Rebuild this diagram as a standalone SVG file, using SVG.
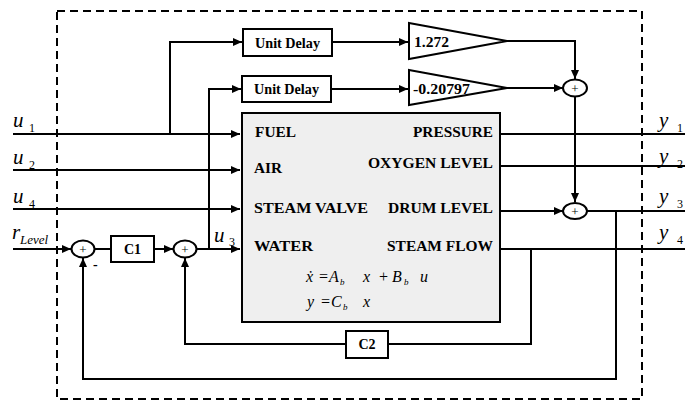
<svg xmlns="http://www.w3.org/2000/svg" width="685" height="401" viewBox="0 0 685 401">
<defs>
<marker id="ah" markerWidth="9" markerHeight="8" refX="9" refY="4" orient="auto" markerUnits="userSpaceOnUse">
<path d="M0,0 L9,4 L0,8 Z" fill="#000"/>
</marker>
<style>
.ln{fill:none;stroke:#000;stroke-width:2}
.box{fill:#fff;stroke:#000;stroke-width:2}
.sum{fill:#fff;stroke:#000;stroke-width:2}
.b{font-family:"Liberation Serif",serif;font-weight:bold;font-size:14px;fill:#000}
.pl{font-family:"Liberation Serif",serif;font-size:13px;fill:#000}
.it{font-family:"Liberation Serif",serif;font-style:italic;font-size:21px;fill:#000}
.eq{font-family:"Liberation Serif",serif;font-style:italic;font-size:16px;fill:#000}
.sub{font-family:"Liberation Serif",serif;font-size:12px;fill:#000}
.subi{font-family:"Liberation Serif",serif;font-style:italic;font-size:13px;fill:#000}
.sb{font-family:"Liberation Serif",serif;font-style:italic;font-size:9px;fill:#000}
</style>
</defs>
<rect x="57" y="11" width="585" height="388" fill="none" stroke="#000" stroke-width="2" stroke-dasharray="8,5"/>
<g id="connectors">
<path class="ln" d="M13,134 H240" marker-end="url(#ah)"/>
<path class="ln" d="M170,134 V42 H242" marker-end="url(#ah)"/>
<path class="ln" d="M13,170 H240" marker-end="url(#ah)"/>
<path class="ln" d="M13,209 H240" marker-end="url(#ah)"/>
<path class="ln" d="M13,249 H71" marker-end="url(#ah)"/>
<path class="ln" d="M95,249 H111"/>
<path class="ln" d="M154,249 H173" marker-end="url(#ah)"/>
<path class="ln" d="M197,249 H240" marker-end="url(#ah)"/>
<path class="ln" d="M209,249 V89 H241" marker-end="url(#ah)"/>
<path class="ln" d="M332,42 H408" marker-end="url(#ah)"/>
<path class="ln" d="M331,89 H408" marker-end="url(#ah)"/>
<path class="ln" d="M507,41 H575 V79" marker-end="url(#ah)"/>
<path class="ln" d="M507,88 H563" marker-end="url(#ah)"/>
<path class="ln" d="M575,97 V202" marker-end="url(#ah)"/>
<path class="ln" d="M500,134 H685"/>
<path class="ln" d="M500,166 H685"/>
<path class="ln" d="M500,211 H563" marker-end="url(#ah)"/>
<path class="ln" d="M587,211 H685"/>
<path class="ln" d="M500,249 H685"/>
<path class="ln" d="M616,211 V379 H83 V258" marker-end="url(#ah)"/>
<path class="ln" d="M531,249 V344 H388"/>
<path class="ln" d="M346,344 H185 V258" marker-end="url(#ah)"/>
</g>
<g id="plant">
<rect x="242" y="113" width="258" height="209" fill="#efefef" stroke="#000" stroke-width="2"/>
<text class="b" x="255" y="137" textLength="41" lengthAdjust="spacingAndGlyphs">FUEL</text>
<text class="b" x="254" y="173" textLength="28" lengthAdjust="spacingAndGlyphs">AIR</text>
<text class="b" x="254" y="213" textLength="114" lengthAdjust="spacingAndGlyphs">STEAM VALVE</text>
<text class="b" x="254" y="251" textLength="59" lengthAdjust="spacingAndGlyphs">WATER</text>
<text class="b" x="413" y="137" textLength="80" lengthAdjust="spacingAndGlyphs">PRESSURE</text>
<text class="b" x="368" y="168" textLength="125" lengthAdjust="spacingAndGlyphs">OXYGEN LEVEL</text>
<text class="b" x="388" y="213" textLength="105" lengthAdjust="spacingAndGlyphs">DRUM LEVEL</text>
<text class="b" x="387" y="251" textLength="106" lengthAdjust="spacingAndGlyphs">STEAM FLOW</text>
<text class="eq" x="306" y="282">ẋ</text>
<text class="eq" x="318" y="282" font-style="normal">=</text>
<text class="eq" x="329" y="282">A</text>
<text class="sb" x="340" y="285">b</text>
<text class="eq" x="363" y="282">x</text>
<text class="eq" x="378" y="282" font-style="normal">+</text>
<text class="eq" x="392" y="282">B</text>
<text class="sb" x="404" y="285">b</text>
<text class="eq" x="420" y="282">u</text>
<text class="eq" x="307" y="307">y</text>
<text class="eq" x="320" y="307" font-style="normal">=</text>
<text class="eq" x="331" y="307">C</text>
<text class="sb" x="343" y="310">b</text>
<text class="eq" x="363" y="307">x</text>
</g>
<g id="delay1">
<rect class="box" x="243" y="29" width="89" height="27"/>
<text class="b" x="255" y="48" textLength="65" lengthAdjust="spacingAndGlyphs">Unit Delay</text>
</g>
<g id="delay2">
<rect class="box" x="242" y="76" width="89" height="26"/>
<text class="b" x="254" y="94" textLength="65" lengthAdjust="spacingAndGlyphs">Unit Delay</text>
</g>
<g id="gain1">
<path class="box" d="M409,23 L507,41 L409,59 Z"/>
<text class="b" x="414" y="47" textLength="35" lengthAdjust="spacingAndGlyphs">1.272</text>
</g>
<g id="gain2">
<path class="box" d="M409,70 L507,88 L409,105 Z"/>
<text class="b" x="413" y="94" textLength="57" lengthAdjust="spacingAndGlyphs">-0.20797</text>
</g>
<g id="sumTop">
<ellipse class="sum" cx="575" cy="88" rx="12" ry="8.5"/>
<text class="pl" x="575" y="92.5" text-anchor="middle">+</text>
</g>
<g id="sumLow">
<ellipse class="sum" cx="575" cy="211" rx="12" ry="8"/>
<text class="pl" x="575" y="215.5" text-anchor="middle">+</text>
</g>
<g id="sum1">
<ellipse class="sum" cx="83" cy="249" rx="11.5" ry="8.5"/>
<text class="pl" x="83" y="253.5" text-anchor="middle">+</text>
<text class="b" x="93" y="269" font-size="12">-</text>
</g>
<g id="sum2">
<ellipse class="sum" cx="185" cy="249" rx="11.5" ry="8.5"/>
<text class="pl" x="185" y="253.5" text-anchor="middle">+</text>
</g>
<g id="c1">
<rect class="box" x="111" y="236" width="43" height="26"/>
<text class="b" x="132.5" y="254" text-anchor="middle">C1</text>
</g>
<g id="c2">
<rect class="box" x="346" y="331" width="42" height="27"/>
<text class="b" x="367" y="349" text-anchor="middle">C2</text>
</g>
<g id="labels">
<text class="it" x="13" y="127">u</text><text class="sub" x="29" y="132">1</text>
<text class="it" x="13" y="164">u</text><text class="sub" x="29" y="169">2</text>
<text class="it" x="13" y="203">u</text><text class="sub" x="29" y="208">4</text>
<text class="it" x="12" y="239">r</text><text class="subi" x="20" y="244">Level</text>
<text class="it" x="214" y="242">u</text><text class="sub" x="229" y="246">3</text>
<text class="it" x="659" y="127">y</text><text class="sub" x="677" y="132">1</text>
<text class="it" x="659" y="163">y</text><text class="sub" x="677" y="168">2</text>
<text class="it" x="659" y="203">y</text><text class="sub" x="677" y="208">3</text>
<text class="it" x="659" y="239">y</text><text class="sub" x="677" y="244">4</text>
</g>
</svg>
